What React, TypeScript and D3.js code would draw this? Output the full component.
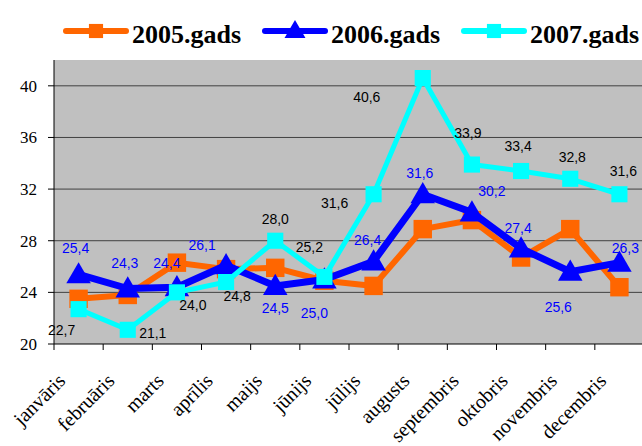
import React, { useRef, useEffect } from 'react';
import * as d3 from 'd3';

const months = ['janvāris', 'februāris', 'marts', 'aprīlis', 'maijs', 'jūnijs', 'jūlijs', 'augusts', 'septembris', 'oktobris', 'novembris', 'decembris'];
const values2005 = [23.5, 23.8, 26.3, 25.8, 25.9, 24.9, 24.5, 28.9, 29.6, 26.7, 28.9, 24.4];
const values2006 = [25.4, 24.3, 24.4, 26.1, 24.5, 25.0, 26.4, 31.6, 30.2, 27.4, 25.6, 26.3];
const values2007 = [22.7, 21.1, 24.0, 24.8, 28.0, 25.2, 31.6, 40.6, 33.9, 33.4, 32.8, 31.6];
const yTicks = [20, 24, 28, 32, 36, 40];
const seriesNames = ['2005.gads', '2006.gads', '2007.gads'];

// label placement offsets (text centre relative to point)
const offsets2006 = [[-3, -26], [-3, -25], [-10, -24], [-24, -20], [0, 22], [-10, 34], [-6, -21], [-3, -21], [20, -21], [-3, -20], [-12, 35], [6, -15]];
const offsets2007 = [[-17, 21], [25, 3], [16, 13], [11, 14], [0, -22], [-15, -30], [-39, 9], [-56, 19], [-4, -32], [-3, -25], [2, -22], [4, -23]];

const W = 642;
const H = 446;

const App = () => {
    const svgRef = useRef<SVGSVGElement>(null);

    useEffect(() => {
        const svg = d3.select(svgRef.current);
        svg.selectAll('*').remove();

        const left = 54, right = 644, top = 60, bottom = 344;

        const x = d3.scaleBand().domain(months).range([left, right]);
        const y = d3.scaleLinear().domain([20, 42]).range([bottom, top]);
        const cx = (m: string) => (x(m) as number) + x.bandwidth() / 2;

        // plot background
        svg.append('rect')
            .attr('x', left).attr('y', top)
            .attr('width', right - left).attr('height', bottom - top)
            .attr('fill', '#c0c0c0');

        // gridlines
        svg.selectAll('line.grid')
            .data(yTicks.filter(t => t > 20))
            .join('line')
            .attr('x1', left).attr('x2', right)
            .attr('y1', d => y(d)).attr('y2', d => y(d))
            .attr('stroke', '#404040').attr('stroke-width', 1);

        // axes
        svg.append('line')
            .attr('x1', left).attr('x2', left).attr('y1', top).attr('y2', bottom)
            .attr('stroke', '#000');
        svg.append('line')
            .attr('x1', left).attr('x2', right).attr('y1', bottom).attr('y2', bottom)
            .attr('stroke', '#000');

        svg.selectAll('line.ytick')
            .data(yTicks)
            .join('line')
            .attr('x1', left - 6).attr('x2', left)
            .attr('y1', d => y(d)).attr('y2', d => y(d))
            .attr('stroke', '#000');

        svg.selectAll('text.ylab')
            .data(yTicks)
            .join('text')
            .attr('x', 37).attr('y', d => y(d) + 6)
            .attr('text-anchor', 'end')
            .attr('font-family', 'Liberation Serif')
            .attr('font-size', 17)
            .text(d => d);

        svg.selectAll('line.xtick')
            .data(months)
            .join('line')
            .attr('x1', d => x(d) as number).attr('x2', d => x(d) as number)
            .attr('y1', bottom).attr('y2', bottom + 6)
            .attr('stroke', '#000');

        svg.selectAll('text.xlab')
            .data(months)
            .join('text')
            .attr('transform', d => `translate(${cx(d) - 12},${bottom + 38}) rotate(-45)`)
            .attr('text-anchor', 'end')
            .attr('font-family', 'Liberation Serif')
            .attr('font-size', 20)
            .text(d => d);

        const line = d3.line<number>()
            .x((_, i) => cx(months[i]))
            .y(d => y(d));

        const drawSeries = (vals: number[], color: string, width: number, marker: string, size: number) => {
            svg.append('path')
                .attr('d', line(vals))
                .attr('fill', 'none')
                .attr('stroke', color)
                .attr('stroke-width', width)
                .attr('stroke-linejoin', 'round');
            const sym = d3.symbol().type(marker === 'tri' ? d3.symbolTriangle : d3.symbolSquare).size(size);
            svg.append('g').selectAll('path')
                .data(vals)
                .join('path')
                .attr('d', sym())
                .attr('transform', (d, i) => `translate(${cx(months[i])},${y(d) + (marker === 'tri' ? 2 : 0)})`)
                .attr('fill', color);
        };

        drawSeries(values2005, '#ff6600', 6, 'sq', 340);
        drawSeries(values2006, '#0000ff', 7, 'tri', 260);
        drawSeries(values2007, '#00ffff', 5, 'sq', 260);

        const fmt = (v: number) => v.toFixed(1).replace('.', ',');

        const drawLabels = (vals: number[], offs: number[][], color: string) => {
            svg.append('g').selectAll('text')
                .data(vals)
                .join('text')
                .attr('x', (d, i) => cx(months[i]) + offs[i][0])
                .attr('y', (d, i) => y(d) + offs[i][1] + 5)
                .attr('text-anchor', 'middle')
                .attr('font-family', 'Liberation Sans')
                .attr('font-size', 14)
                .attr('fill', color)
                .text(d => fmt(d));
        };
        drawLabels(values2006, offsets2006, '#0000ff');
        drawLabels(values2007, offsets2007, '#000');

        // legend
        const legendColors = ['#ff6600', '#0000ff', '#00ffff'];
        const legendX = [66, 265, 464];
        const lg = svg.append('g');
        seriesNames.forEach((name, i) => {
            const lx = legendX[i];
            lg.append('line')
                .attr('x1', lx).attr('x2', lx + 60)
                .attr('y1', 31).attr('y2', 31)
                .attr('stroke', legendColors[i])
                .attr('stroke-width', 6)
                .attr('stroke-linecap', 'round');
            const sym = d3.symbol().type(i === 1 ? d3.symbolTriangle : d3.symbolSquare).size(i === 1 ? 190 : 200);
            lg.append('path')
                .attr('d', sym())
                .attr('transform', `translate(${lx + 30},${i === 1 ? 32 : 31})`)
                .attr('fill', legendColors[i]);
            lg.append('text')
                .attr('x', lx + 66).attr('y', 43)
                .attr('font-family', 'Liberation Serif')
                .attr('font-weight', 'bold')
                .attr('font-size', 26)
                .text(name);
        });
    }, []);

    return (
        <svg ref={svgRef} width={W} height={H}
            style={{ position: 'absolute', left: 0, top: 0, background: '#fff' }} />
    );
};

export default App;
